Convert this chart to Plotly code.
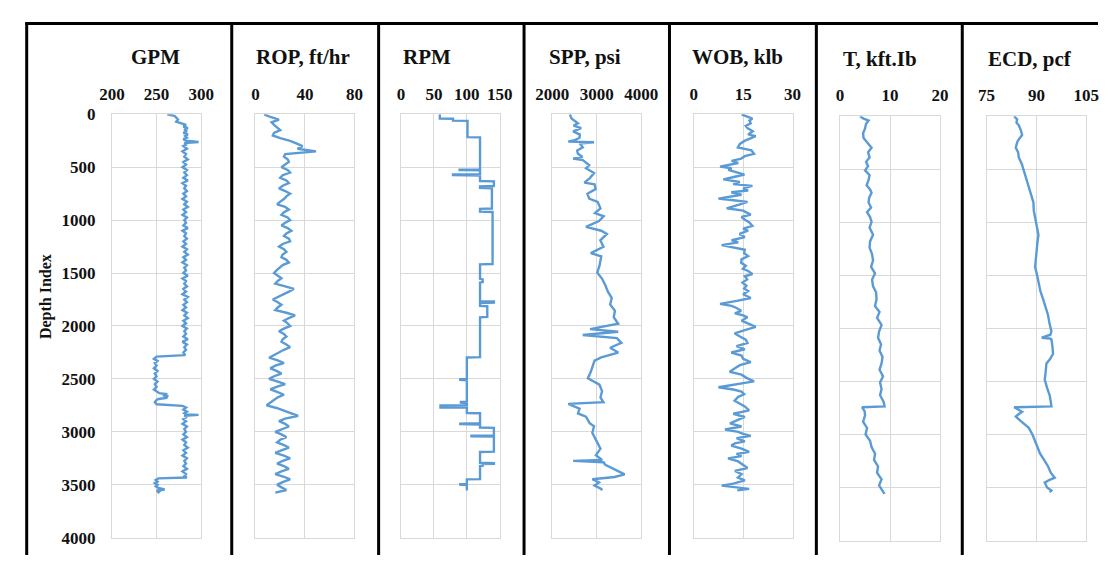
import plotly.graph_objects as go

# ---------------- data ----------------
gpm_depth = [0, 15, 30, 50, 70, 85, 100, 115, 130, 145, 160, 175, 190, 205, 220, 235, 250, 262, 272, 285,
             300, 325, 350, 375, 400, 425, 450, 475, 500, 525,
             550, 575, 600, 625, 650, 675, 700, 725, 750, 775,
             800, 825, 850, 875, 900, 925, 950, 975, 1000, 1025,
             1050, 1075, 1100, 1125, 1150, 1175, 1200, 1225, 1250, 1275,
             1300, 1325, 1350, 1375, 1400, 1425, 1450, 1475, 1500, 1525,
             1550, 1575, 1600, 1625, 1650, 1675, 1700, 1725, 1750, 1775,
             1800, 1825, 1850, 1875, 1900, 1925, 1950, 1975, 2000, 2025,
             2050, 2075, 2100, 2125, 2150, 2175, 2200, 2225, 2250, 2275,
             2290, 2310, 2330, 2350, 2375, 2400, 2425, 2450, 2475, 2500,
             2525, 2550, 2575, 2600, 2620, 2635, 2645, 2655, 2665, 2680,
             2690, 2700, 2720, 2740, 2755, 2770, 2790, 2810, 2825, 2835,
             2840, 2848, 2860, 2880, 2900, 2925, 2950, 2975, 3000, 3025,
             3050, 3075, 3100, 3125, 3150, 3175, 3200, 3225, 3250, 3275,
             3300, 3325, 3350, 3375, 3400, 3420, 3432, 3440, 3455, 3470,
             3485, 3500, 3515, 3530, 3545, 3555, 3565, 3580]
gpm_values = [262, 270, 272, 274, 272, 279, 283, 280, 285, 281, 284, 280, 285, 282, 284, 280, 283, 297, 281, 284,
              280, 284, 279, 283, 281, 285, 280, 283, 279, 284,
              281, 284, 280, 285, 279, 283, 281, 284, 280, 283,
              279, 284, 281, 285, 280, 283, 279, 284, 281, 283,
              280, 285, 279, 283, 281, 284, 280, 283, 279, 284,
              281, 285, 280, 283, 279, 284, 281, 283, 280, 285,
              279, 283, 281, 284, 280, 283, 279, 285, 281, 284,
              280, 283, 279, 284, 281, 285, 280, 283, 279, 284,
              281, 283, 280, 285, 279, 284, 281, 283, 280, 282,
              250, 247, 251, 248, 250, 247, 251, 248, 250, 247,
              251, 248, 250, 247, 251, 253, 262, 257, 262, 261,
              252, 250, 248, 250, 279, 283, 280, 284, 281, 283,
              297, 281, 284, 280, 283, 279, 284, 281, 283, 280,
              284, 279, 283, 281, 285, 280, 283, 279, 284, 281,
              283, 280, 284, 279, 283, 281, 284, 252, 249, 251,
              248, 251, 249, 252, 259, 250, 253, 251]

rop_depth = [0, 25, 50, 75, 100, 125, 150, 175, 200, 225,
             250, 275, 300, 325, 350, 375, 400, 425, 450, 475,
             500, 525, 550, 575, 600, 625, 650, 675, 700, 725,
             750, 775, 800, 825, 850, 875, 900, 925, 950, 975,
             1000, 1025, 1050, 1075, 1100, 1125, 1150, 1175, 1200, 1225,
             1250, 1275, 1300, 1325, 1350, 1375, 1400, 1425, 1450, 1475,
             1500, 1525, 1550, 1575, 1600, 1625, 1650, 1675, 1700, 1725,
             1750, 1775, 1800, 1825, 1850, 1875, 1900, 1925, 1950, 1975,
             2000, 2025, 2050, 2075, 2100, 2125, 2150, 2175, 2200, 2225,
             2250, 2275, 2300, 2325, 2350, 2375, 2400, 2425, 2450, 2475,
             2500, 2525, 2550, 2575, 2600, 2625, 2650, 2675, 2700, 2725,
             2750, 2775, 2800, 2825, 2850, 2875, 2900, 2925, 2950, 2975,
             3000, 3025, 3050, 3075, 3100, 3125, 3150, 3175, 3200, 3225,
             3250, 3275, 3300, 3325, 3350, 3375, 3400, 3425, 3450, 3475,
             3500, 3525, 3550, 3575]
rop_values = [7, 12, 19, 13, 15, 18, 20, 15, 14, 20,
              28, 33, 38, 34, 49, 24, 23, 26, 27, 24,
              21, 26, 28, 22, 20, 25, 27, 22, 19, 24,
              28, 25, 23, 20, 17.5, 24, 27, 23, 21, 26,
              28, 24, 21, 26, 29, 25, 23, 27, 28, 22,
              19, 23, 25, 22, 21, 25, 27, 22, 19, 17,
              15, 18, 21, 18, 16, 24, 31, 27, 23, 18,
              14, 18, 21, 18, 16, 25, 32, 27, 23, 26,
              28, 23, 19, 23, 25, 22, 21, 25, 28, 23,
              19, 15, 11, 18, 23, 16, 12, 17, 21, 15,
              11, 18, 24, 17, 12, 18, 23, 18, 15, 12,
              9, 17, 24, 29, 34.5, 24, 19, 24, 27, 21,
              16, 21, 25, 20, 17.5, 23, 27, 21, 16, 23,
              28, 22, 17.5, 23, 27, 21, 16, 23, 28, 22,
              17.5, 21, 25, 16]

rpm_depth = [0, 40, 42, 60, 62, 215, 218, 520, 522, 527,
             530, 565, 568, 575, 578, 630, 633, 678, 681, 695,
             698, 890, 893, 920, 923, 1415, 1418, 1555, 1560, 1585,
             1590, 1765, 1768, 1780, 1783, 1810, 1813, 1915, 1918, 2295,
             2298, 2500, 2503, 2510, 2513, 2715, 2718, 2725, 2728, 2748,
             2750, 2770, 2772, 2822, 2825, 2920, 2923, 2928, 2931, 2960,
             2963, 3035, 3038, 3043, 3046, 3188, 3191, 3293, 3296, 3302,
             3305, 3320, 3323, 3447, 3450, 3492, 3495, 3500, 3503, 3555]
rpm_values = [59, 59, 79, 79, 101, 101, 120, 120, 89, 89,
              120, 120, 79, 79, 120, 120, 141, 141, 120, 120,
              138, 138, 120, 120, 139, 139, 120, 120, 124, 124,
              120, 120, 141, 141, 120, 120, 131, 131, 120, 120,
              100, 100, 90, 90, 100, 100, 91, 91, 100, 100,
              60, 60, 100, 100, 120, 120, 90, 90, 120, 120,
              141, 141, 107, 107, 141, 141, 120, 120, 141, 141,
              124, 124, 120, 120, 100, 100, 90, 90, 100, 100]

spp_depth = [0, 39, 85, 106, 130, 161, 191, 221, 245, 258,
             264, 276, 312, 342, 373, 403, 418, 433, 479, 509,
             554, 600, 645, 661, 706, 751, 797, 827, 888, 933,
             964, 1009, 1064, 1100, 1130, 1191, 1251, 1312, 1342, 1433,
             1494, 1554, 1615, 1676, 1736, 1797, 1857, 1918, 1979, 2030,
             2054, 2085, 2115, 2160, 2206, 2251, 2297, 2327, 2433, 2494,
             2555, 2615, 2676, 2721, 2736, 2782, 2827, 2857, 2918, 2948,
             3009, 3070, 3130, 3160, 3221, 3266, 3275, 3288, 3312, 3357,
             3403, 3427, 3448, 3479, 3509, 3539, 3554]
spp_values = [2397, 2433, 2578, 2480, 2650, 2470, 2620, 2614, 2500, 2361,
              2939, 2620, 2686, 2560, 2578, 2680, 2470, 2686, 2830, 2760,
              2939, 2850, 2722, 2950, 2975, 2790, 2830, 3020, 3083, 2960,
              3155, 3050, 2758, 3100, 3227, 3080, 3150, 2866, 3100, 3060,
              3011, 3120, 3191, 3250, 3336, 3300, 3408, 3380, 3480, 2850,
              3480, 2686, 3450, 3552, 3300, 3480, 3100, 2950, 2866, 2800,
              3060, 3119, 3083, 3150, 2361, 2614, 2580, 2758, 2840, 2939,
              2900, 2975, 3050, 3083, 2980, 3120, 2470, 3150, 3191, 3400,
              3625, 3400, 2902, 3050, 2950, 3100, 3119]

wob_depth = [0, 20, 40, 60, 85, 110, 130, 160, 190, 206,
             230, 251, 280, 312, 340, 373, 395, 418, 440, 460,
             494, 510, 524, 545, 570, 590, 615, 640, 660, 676,
             700, 720, 736, 760, 780, 797, 812, 827, 850, 870,
             888, 910, 930, 948, 970, 994, 1020, 1054, 1080, 1100,
             1130, 1160, 1190, 1210, 1236, 1260, 1280, 1312, 1340, 1370,
             1403, 1430, 1460, 1480, 1509, 1530, 1560, 1590, 1620, 1645,
             1670, 1700, 1736, 1760, 1791, 1810, 1830, 1857, 1880, 1900,
             1918, 1950, 1980, 2009, 2040, 2069, 2100, 2130, 2160, 2190,
             2220, 2251, 2280, 2310, 2342, 2370, 2400, 2433, 2460, 2490,
             2524, 2550, 2579, 2600, 2620, 2645, 2670, 2706, 2730, 2760,
             2797, 2830, 2860, 2890, 2920, 2950, 2978, 3000, 3020, 3039,
             3060, 3090, 3110, 3130, 3160, 3190, 3210, 3230, 3251, 3280,
             3310, 3342, 3370, 3400, 3433, 3460, 3490, 3509, 3525, 3539,
             3554]
wob_values = [14.5, 16.5, 17.8, 16.9, 17.3, 15.8, 16.3, 17.9, 16.5, 18.8,
              16.8, 15.4, 14.0, 13.4, 17.5, 18.3, 15.5, 14.4, 11.5, 13.5,
              8.0, 11.5, 10.5, 13.0, 15.4, 12.5, 9.0, 14.0, 12.0, 17.8,
              15.0, 16.5, 11.4, 14.5, 10.5, 7.5, 12.0, 16.3, 14.0, 11.5,
              10.0, 15.0, 16.5, 17.3, 14.5, 15.4, 16.8, 17.8, 15.0, 16.5,
              13.9, 15.5, 11.5, 13.5, 8.5, 12.0, 15.5, 15.3, 16.5, 14.5,
              14.4, 15.8, 14.9, 16.5, 17.8, 15.5, 16.2, 14.8, 16.0, 15.3,
              16.5, 15.0, 17.3, 13.5, 8.0, 11.5, 13.0, 14.4, 12.5, 15.0,
              16.3, 14.5, 17.0, 18.8, 15.5, 12.4, 14.0, 15.8, 16.3, 13.0,
              15.5, 11.4, 14.5, 15.0, 17.3, 14.0, 12.5, 10.9, 14.5, 16.0,
              18.3, 13.0, 7.5, 12.0, 14.5, 15.3, 13.5, 12.4, 14.0, 15.5,
              16.8, 12.0, 15.5, 13.0, 11.0, 14.5, 9.5, 13.5, 15.0, 17.3,
              13.0, 15.5, 12.5, 11.4, 14.5, 16.8, 13.0, 14.5, 10.4, 13.5,
              15.0, 16.3, 12.5, 14.5, 13.4, 15.5, 12.0, 8.5, 13.0, 16.8,
              13.2]

t_depth = [0, 20, 40, 70, 115, 160, 206, 250, 297, 340,
           388, 430, 470, 510, 555, 601, 650, 690, 722, 770,
           813, 860, 904, 950, 995, 1050, 1117, 1180, 1238, 1300,
           1360, 1420, 1481, 1540, 1603, 1660, 1724, 1790, 1845, 1900,
           1967, 2030, 2088, 2150, 2209, 2270, 2331, 2390, 2452, 2510,
           2573, 2630, 2690, 2735, 2744, 2780, 2820, 2880, 2938, 3000,
           3059, 3120, 3181, 3240, 3302, 3360, 3424, 3480, 3545, 3560]
t_values = [4.0, 4.6, 5.7, 5.2, 5.0, 4.6, 4.7, 5.5, 6.3, 5.6,
            5.9, 5.2, 5.6, 5.0, 5.9, 5.7, 5.3, 6.0, 6.3, 5.8,
            5.7, 6.2, 5.4, 6.0, 6.3, 5.9, 6.6, 6.0, 5.9, 6.4,
            6.6, 6.2, 7.0, 6.4, 6.6, 7.2, 7.3, 7.0, 7.9, 7.4,
            8.3, 7.8, 7.6, 8.2, 7.9, 8.5, 8.3, 7.9, 8.6, 8.0,
            8.3, 8.0, 8.7, 8.9, 4.4, 4.9, 5.0, 4.6, 5.4, 5.1,
            6.0, 6.3, 7.0, 6.8, 7.6, 7.4, 8.3, 7.8, 8.6, 8.9]

ecd_depth = [0, 30, 60, 85, 130, 176, 210, 237, 270, 297,
             340, 388, 450, 510, 580, 662, 740, 813, 890, 965,
             1040, 1117, 1190, 1269, 1340, 1420, 1500, 1572, 1650, 1724,
             1800, 1876, 1950, 2027, 2060, 2088, 2095, 2103, 2170, 2240,
             2290, 2331, 2400, 2483, 2560, 2634, 2690, 2735, 2744, 2765,
             2786, 2810, 2832, 2880, 2938, 3000, 3059, 3120, 3181, 3240,
             3302, 3360, 3408, 3430, 3454, 3500, 3530, 3545]
ecd_values = [83.3, 84.2, 84.0, 84.7, 85.3, 85.7, 84.9, 84.3, 84.0, 83.8,
              84.5, 84.7, 85.6, 86.2, 86.9, 87.7, 88.5, 89.1, 89.2, 89.6,
              90.2, 90.6, 90.3, 90.1, 89.8, 89.6, 90.2, 90.6, 91.2, 92.0,
              92.7, 93.5, 93.9, 94.5, 94.2, 91.6, 94.0, 94.5, 94.8, 95.0,
              94.1, 93.0, 92.8, 92.5, 93.2, 94.0, 94.3, 94.5, 83.3, 84.5,
              85.7, 84.6, 83.8, 85.5, 87.7, 88.8, 89.6, 90.2, 91.1, 92.3,
              93.5, 94.3, 95.5, 93.8, 92.5, 93.2, 94.5, 94.0]

panel_titles = ["GPM", "ROP, ft/hr", "RPM", "SPP, psi", "WOB, klb", "T, kft.Ib", "ECD, pcf"]
x_ticks = [[200, 250, 300], [0, 40, 80], [0, 50, 100, 150], [2000, 3000, 4000],
           [0, 15, 30], [0, 10, 20], [75, 90, 105]]
depth_ticks = [0, 500, 1000, 1500, 2000, 2500, 3000, 3500, 4000]
series = [(gpm_depth, gpm_values), (rop_depth, rop_values), (rpm_depth, rpm_values),
          (spp_depth, spp_values), (wob_depth, wob_values), (t_depth, t_values),
          (ecd_depth, ecd_values)]
for d, v in series:
    assert len(d) == len(v)

# ---------------- layout geometry (pixels) ----------------
W, H = 1115, 565
def fx(p): return p / W
def fy(p): return 1 - p / H

x_dom_px = [(98, 190), (246, 348), (396, 498), (552, 644), (698, 800), (849, 952), (1000, 1103)]
y_dom_px = [(109, 547)] * 5 + [(111, 550)] * 2
title_px = [(143, 50), (295, 50), (423, 50), (586, 50), (743, 50), (890, 52), (1045, 52)]

FONT = "Liberation Serif"
LINE = "#5b9bd5"
GRID = "#d9d9d9"

fig = go.Figure()
layout = dict(width=W, height=H, margin=dict(l=0, r=0, t=0, b=0, pad=0),
              paper_bgcolor="white", plot_bgcolor="white", showlegend=False)
annotations = []
shapes = []

for i in range(7):
    n = "" if i == 0 else str(i + 1)
    d, v = series[i]
    fig.add_trace(go.Scatter(x=v, y=d, mode="lines", xaxis="x" + n, yaxis="y" + n,
                             line=dict(color=LINE, width=2.4), hoverinfo="skip"))
    xt = x_ticks[i]
    (x0, x1), (y0, y1) = x_dom_px[i], y_dom_px[i]
    layout["xaxis" + n] = dict(
        domain=[fx(x0), fx(x1)], range=[xt[0], xt[-1]], side="top", anchor="y" + n,
        tickvals=xt, ticktext=[str(t) for t in xt], ticks="", ticklabelstandoff=7,
        tickfont=dict(family=FONT, size=17, color="#111", weight="bold"),
        showgrid=True, gridcolor=GRID, gridwidth=1, zeroline=False,
        showline=True, linecolor=GRID, linewidth=1, mirror=True, fixedrange=True)
    layout["yaxis" + n] = dict(
        domain=[fy(y1), fy(y0)], range=[4000, 0], anchor="x" + n,
        tickvals=depth_ticks, ticktext=[str(t) for t in depth_ticks],
        showticklabels=(i == 0), ticks="", ticklabelstandoff=12,
        tickfont=dict(family=FONT, size=17, color="#111", weight="bold"),
        showgrid=True, gridcolor=GRID, gridwidth=1, zeroline=False,
        showline=True, linecolor=GRID, linewidth=1, mirror=True, fixedrange=True)
    tx, ty = title_px[i]
    annotations.append(dict(text=panel_titles[i], x=fx(tx), y=fy(ty), xref="paper", yref="paper",
                            xanchor="center", yanchor="middle", showarrow=False,
                            font=dict(family=FONT, size=21, color="#111", weight="bold")))

annotations.append(dict(text="Depth Index", x=fx(30), y=fy(298), xref="paper", yref="paper",
                        xanchor="center", yanchor="middle", textangle=-90, showarrow=False,
                        font=dict(family=FONT, size=16, color="#111", weight="bold")))

# black table borders
for sx in [10, 221.5, 373, 523, 673, 824.5, 975]:
    shapes.append(dict(type="line", xref="paper", yref="paper", x0=fx(sx), x1=fx(sx),
                       y0=fy(14), y1=0, line=dict(color="black", width=3)))
shapes.append(dict(type="line", xref="paper", yref="paper", x0=fx(8.5), x1=1,
                   y0=fy(15), y1=fy(15), line=dict(color="black", width=3)))

layout["annotations"] = annotations
layout["shapes"] = shapes
fig.update_layout(**layout)
fig.write_html("out.html")
